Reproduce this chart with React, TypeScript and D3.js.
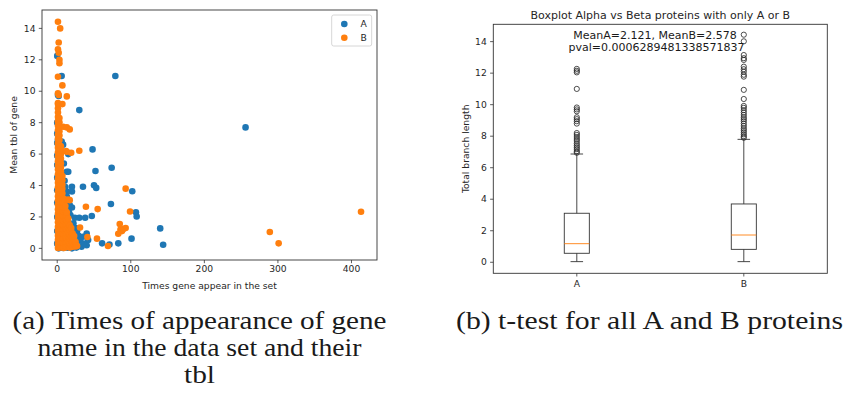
import React from "react";
import * as d3 from "d3";

// ---------- scatter data: [times gene appears, mean tbl] ----------
const seriesNames = ["A", "B"];
const seriesColors = ["#1f77b4", "#ff7f0e"];

const scatterA: [number, number][] = [
  [79, 10.97], [30, 8.8], [15, 6.0], [48, 6.3], [15, 4.88], [52, 4.92], [74, 5.13],
  [20, 3.92], [20, 3.62], [35, 3.92], [50, 4.01], [53, 3.85], [102, 3.64], [17, 2.75],
  [20, 2.6], [73, 2.82], [107, 2.3], [108, 2.03], [24, 1.95], [30, 1.95], [38, 1.95],
  [47, 2.06], [140, 1.27], [40, 0.95], [42, 0.53], [40, 0.2], [61, 0.32], [71, 0.25],
  [83, 0.32], [144, 0.23], [33, 0.1], [35, 0.74], [101, 0.62], [256, 7.7], [6, 10.97],
  [0, 12.25], [2, 9.7], [1, 9.76], [13, 4.88], [13, 3.6], [13, 3.3], [15, 2.65],
  [0, 0.3], [0, 1.1], [0, 2.0], [0, 2.9], [0, 3.7], [0, 4.5], [0, 5.3], [0, 5.9],
  [0, 6.7], [0, 7.3], [0, 8.0], [1, 6.9], [8, 6.6], [6, 6.8], [9, 5.4], [10, 4.3],
  [11, 3.9], [14, 3.1], [16, 2.3], [18, 2.1], [22, 1.6], [25, 1.3], [27, 1.1],
  [29, 0.8], [31, 0.5], [28, 0.2], [2, 0.0], [8, 0.02], [14, 0.04], [20, 0.0],
  [26, 0.05], [23, 0.6], [19, 1.1], [36, 0.3],
];

const scatterB: [number, number][] = [
  // dense group of rarely repeated genes
  [1, 0.02], [1, 0.28], [1, 0.55], [1, 0.81], [1, 1.12], [1, 1.37], [1, 1.66], [1, 1.94],
  [1, 2.21], [1, 2.48], [1, 2.77], [1, 3.05], [1, 3.31], [1, 3.62], [1, 3.88], [1, 4.17],
  [1, 4.43], [1, 4.71], [1, 5.02], [1, 5.29], [1, 5.55], [1, 5.86], [1, 6.12], [1, 6.41],
  [1, 6.68], [1, 6.97], [1, 7.23], [1, 7.52], [1, 7.81], [1, 8.08], [1, 8.36], [1, 8.65],
  [1, 8.92], [1, 9.18],
  [3, 0.12], [3, 0.41], [3, 0.7], [3, 0.98], [3, 1.27], [3, 1.55], [3, 1.83], [3, 2.12],
  [3, 2.4], [3, 2.69], [3, 2.95], [3, 3.24], [3, 3.52], [3, 3.8], [3, 4.09], [3, 4.36],
  [3, 4.64], [3, 4.93], [3, 5.21], [3, 5.48], [3, 5.77], [3, 6.05], [3, 6.33], [3, 6.58],
  [3, 6.9], [3, 7.18], [3, 7.46], [3, 7.71], [3, 8.02], [3, 8.3],
  [5, 0.06], [5, 0.35], [5, 0.63], [5, 0.92], [5, 1.2], [5, 1.49], [5, 1.77], [5, 2.05],
  [5, 2.34], [5, 2.61], [5, 2.9], [5, 3.18], [5, 3.47], [5, 3.74], [5, 4.02], [5, 4.31],
  [5, 4.6], [5, 4.88], [5, 5.15], [5, 5.42], [5, 5.71], [5, 6.0], [5, 6.26], [5, 6.5],
  [7, 0.1], [7, 0.39], [7, 0.68], [7, 0.96], [7, 1.25], [7, 1.53], [7, 1.82], [7, 2.1],
  [7, 2.38], [7, 2.66], [7, 2.94], [7, 3.23], [7, 3.51], [7, 3.79], [7, 4.05], [7, 4.34],
  [7, 4.6],
  [9, 0.03], [9, 0.32], [9, 0.61], [9, 0.9], [9, 1.18], [9, 1.46], [9, 1.74], [9, 2.03],
  [9, 2.31], [9, 2.6], [9, 2.87], [9, 3.15],
  [11, 0.14], [11, 0.43], [11, 0.72], [11, 1.0], [11, 1.29], [11, 1.57], [11, 1.86],
  [11, 2.14], [11, 2.42], [11, 2.7],
  [13, 0.08], [13, 0.36], [13, 0.65], [13, 0.94], [13, 1.22], [13, 1.51], [13, 1.79],
  [13, 2.08], [13, 2.3],
  [15, 0.19], [15, 0.47], [15, 0.76], [15, 1.04], [15, 1.33], [15, 1.62], [15, 1.9],
  [17, 0.05], [17, 0.33], [17, 0.62], [17, 0.9], [17, 1.19], [17, 1.47],
  [19, 0.22], [19, 0.5], [19, 0.79], [19, 1.08], [19, 1.3],
  [21, 0.1], [21, 0.38], [21, 0.67], [21, 0.95],
  [23, 0.25], [23, 0.52], [23, 0.78],
  [25, 0.12], [25, 0.4],
  // scattered genes
  [1, 14.42], [4, 14.0], [2, 13.1], [1, 12.67], [2, 12.45], [3, 12.0], [3, 11.78],
  [1, 10.92], [7, 10.37], [1, 9.87], [2, 9.76], [13, 9.67], [1, 9.25], [7, 9.18],
  [8, 7.74], [13, 7.7], [17, 7.57], [13, 6.15], [12, 6.2], [19, 6.09], [30, 6.21],
  [93, 3.8], [15, 3.1], [17, 3.07], [39, 2.65], [55, 2.5], [99, 2.35], [85, 1.55],
  [86, 1.2], [90, 1.23], [93, 1.3], [88, 1.1], [83, 0.93], [41, 0.72], [54, 0.62],
  [69, 0.15], [27, 0.15], [31, 1.33], [26, 0.18], [289, 1.04], [301, 0.32], [413, 2.33],
];

const scatterXTicks = [0, 100, 200, 300, 400];
const scatterYTicks = [0, 2, 4, 6, 8, 10, 12, 14];

// ---------- box plot data ----------
const boxCategories = ["A", "B"];
const boxWhiskerLow = [0.04, 0.04];
const boxQ1 = [0.57, 0.82];
const boxMedian = [1.18, 1.73];
const boxQ3 = [3.11, 3.7];
const boxWhiskerHigh = [6.87, 7.8];
const fliersA = [12.27, 12.15, 12.05, 11.0, 9.82, 9.7, 9.58, 9.2, 9.08, 8.95, 8.8, 8.2, 8.08,
  7.95, 7.82, 7.7, 7.55, 7.42, 7.3, 7.18, 7.05, 6.95];
const fliersB = [14.44, 14.02, 13.15, 12.95, 12.84, 12.41, 12.25, 12.09, 11.9, 11.78, 10.94,
  10.36, 9.92, 9.8, 9.65, 9.5, 9.35, 9.2, 9.08, 8.95, 8.8, 8.65, 8.5, 8.38, 8.25, 8.12, 8.0, 7.9];
const boxYTicks = [0, 2, 4, 6, 8, 10, 12, 14];
const meanA = 2.121;
const meanB = 2.578;
const pval = "0.0006289481338571837";

const FONT = "DejaVu Sans, sans-serif";
const SERIF = "'Liberation Serif', 'Times New Roman', serif";
const TICK = 9.2;
const TITLE = 11;

export default function App() {
  // scatter panel
  const sx = d3.scaleLinear().domain([-20.7, 434.7]).range([42, 377]);
  const sy = d3.scaleLinear().domain([-0.74, 15.17]).range([260, 10]);
  // box panel
  const bx = d3.scaleLinear().domain([0.5, 2.5]).range([493.3, 827.3]);
  const by = d3.scaleLinear().domain([-0.7, 15.1]).range([273.3, 24.3]);
  const boxW = bx(1.075) - bx(0.925);
  const fliers = [fliersA, fliersB];

  return (
    <svg width={846} height={394} style={{ position: "absolute", left: 0, top: 0, background: "#fff" }}
      fontFamily={FONT}>
      {/* ---------- scatter ---------- */}
      <g>
        {[scatterA, scatterB].map((pts, si) => (
          <g key={si} fill={seriesColors[si]}>
            {pts.map((p, i) => (
              <circle key={i} cx={sx(p[0])} cy={sy(p[1])} r={3.3} />
            ))}
          </g>
        ))}
        <rect x={42} y={10} width={335} height={250} fill="none" stroke="#333" strokeWidth={0.9} />
        {scatterXTicks.map((t) => (
          <g key={t}>
            <line x1={sx(t)} x2={sx(t)} y1={260} y2={263.2} stroke="#333" strokeWidth={0.8} />
            <text x={sx(t)} y={265.8} dy="0.71em" fontSize={TICK} textAnchor="middle" fill="#262626">{t}</text>
          </g>
        ))}
        {scatterYTicks.map((t) => (
          <g key={t}>
            <line x1={38.8} x2={42} y1={sy(t)} y2={sy(t)} stroke="#333" strokeWidth={0.8} />
            <text x={35.5} y={sy(t)} dy="0.35em" fontSize={TICK} textAnchor="end" fill="#262626">{t}</text>
          </g>
        ))}
        <text x={209.5} y={289} fontSize={TICK} textAnchor="middle" fill="#262626">Times gene appear in the set</text>
        <text transform="translate(17,135) rotate(-90)" fontSize={TICK} textAnchor="middle" fill="#262626">Mean tbl of gene</text>
        {/* legend */}
        <rect x={331.7} y={15} width={40} height={31} rx={2} fill="#fff" fillOpacity={0.8} stroke="#ccc" strokeWidth={0.8} />
        {seriesNames.map((n, i) => (
          <g key={n}>
            <circle cx={344.3} cy={24 + i * 13.7} r={3.3} fill={seriesColors[i]} />
            <text x={360.5} y={24 + i * 13.7} dy="0.35em" fontSize={TICK} fill="#262626">{n}</text>
          </g>
        ))}
      </g>

      {/* ---------- box plot ---------- */}
      <g>
        <text x={660.3} y={19} fontSize={TITLE} textAnchor="middle" fill="#262626">
          Boxplot Alpha vs Beta proteins with only A or B
        </text>
        <rect x={493.3} y={24.3} width={334} height={249} fill="none" stroke="#333" strokeWidth={0.9} />
        {boxCategories.map((c, i) => {
          const cx = bx(i + 1);
          return (
            <g key={c}>
              <line x1={cx} x2={cx} y1={by(boxQ1[i])} y2={by(boxWhiskerLow[i])} stroke="#333" strokeWidth={0.9} />
              <line x1={cx} x2={cx} y1={by(boxQ3[i])} y2={by(boxWhiskerHigh[i])} stroke="#333" strokeWidth={0.9} />
              <line x1={cx - boxW / 4} x2={cx + boxW / 4} y1={by(boxWhiskerLow[i])} y2={by(boxWhiskerLow[i])} stroke="#333" strokeWidth={0.9} />
              <line x1={cx - boxW / 4} x2={cx + boxW / 4} y1={by(boxWhiskerHigh[i])} y2={by(boxWhiskerHigh[i])} stroke="#333" strokeWidth={0.9} />
              <rect x={cx - boxW / 2} y={by(boxQ3[i])} width={boxW} height={by(boxQ1[i]) - by(boxQ3[i])}
                fill="none" stroke="#333" strokeWidth={0.9} />
              <line x1={cx - boxW / 2} x2={cx + boxW / 2} y1={by(boxMedian[i])} y2={by(boxMedian[i])} stroke="#ff7f0e" strokeWidth={0.9} />
              {fliers[i].map((v, k) => (
                <circle key={k} cx={cx} cy={by(v)} r={2.6} fill="none" stroke="#222" strokeWidth={0.8} />
              ))}
              <line x1={cx} x2={cx} y1={273.3} y2={276.5} stroke="#333" strokeWidth={0.8} />
              <text x={cx} y={280.5} dy="0.71em" fontSize={TICK} textAnchor="middle" fill="#262626">{c}</text>
            </g>
          );
        })}
        {boxYTicks.map((t) => (
          <g key={t}>
            <line x1={490.1} x2={493.3} y1={by(t)} y2={by(t)} stroke="#333" strokeWidth={0.8} />
            <text x={486.8} y={by(t)} dy="0.35em" fontSize={TICK} textAnchor="end" fill="#262626">{t}</text>
          </g>
        ))}
        <text transform="translate(468.5,148.8) rotate(-90)" fontSize={TICK} textAnchor="middle" fill="#262626">Total branch length</text>
        <text x={655} y={39.2} fontSize={TITLE} textAnchor="middle" fill="#1a1a1a">
          {`MeanA=${meanA}, MeanB=${meanB}`}
        </text>
        <text x={656.5} y={50.9} fontSize={TITLE} textAnchor="middle" fill="#1a1a1a">
          {`pval=${pval}`}
        </text>
      </g>

      {/* ---------- captions ---------- */}
      <g style={{ fontFamily: SERIF }} fontSize={26} fill="#1a1a1a">
        <text x={199.5} y={329} textAnchor="middle" textLength={374} lengthAdjust="spacingAndGlyphs">(a) Times of appearance of gene</text>
        <text x={199.5} y={356} textAnchor="middle" textLength={324} lengthAdjust="spacingAndGlyphs">name in the data set and their</text>
        <text x={199.5} y={383} textAnchor="middle" textLength={31} lengthAdjust="spacingAndGlyphs">tbl</text>
        <text x={649.5} y={329} textAnchor="middle" textLength={387} lengthAdjust="spacingAndGlyphs">(b) t-test for all A and B proteins</text>
      </g>
    </svg>
  );
}
